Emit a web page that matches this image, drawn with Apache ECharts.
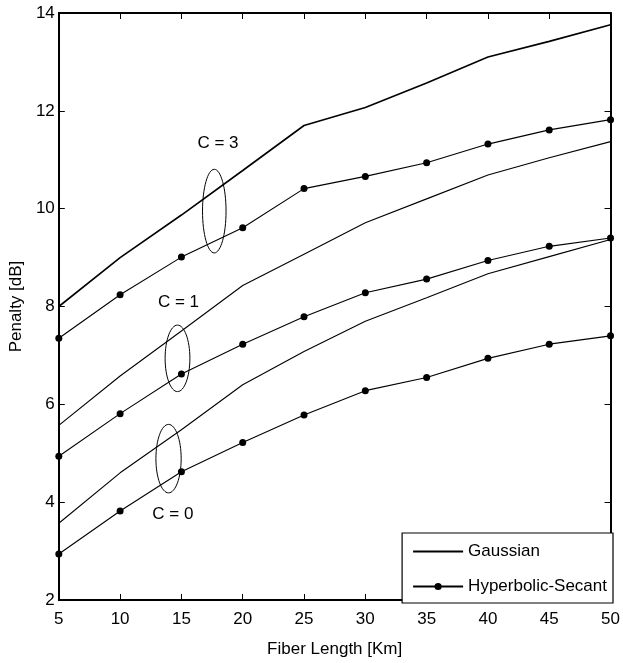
<!DOCTYPE html>
<html>
<head>
<meta charset="utf-8">
<script src="https://cdn.jsdelivr.net/npm/echarts@6/dist/echarts.min.js"></script>
<style>
html,body{margin:0;padding:0;background:#fff;}
#chart{width:623px;height:663px;}
</style>
</head>
<body>
<div id="chart"></div>
<script>
// Fiber length (km)
const fiberLength = [5, 10, 15, 20, 25, 30, 35, 40, 45, 50];
// Penalty [dB]
const gaussianC3 = [8.00, 9.00, 9.87, 10.78, 11.70, 12.07, 12.57, 13.10, 13.42, 13.76];
const hypsecC3   = [7.35, 8.24, 9.01, 9.61, 10.41, 10.66, 10.94, 11.32, 11.61, 11.82];
const gaussianC1 = [5.57, 6.58, 7.50, 8.43, 9.07, 9.71, 10.20, 10.69, 11.04, 11.37];
const hypsecC1   = [4.94, 5.81, 6.62, 7.23, 7.79, 8.28, 8.56, 8.94, 9.23, 9.40];
const gaussianC0 = [3.57, 4.60, 5.48, 6.40, 7.08, 7.70, 8.18, 8.67, 9.02, 9.37];
const hypsecC0   = [2.94, 3.82, 4.62, 5.22, 5.78, 6.28, 6.55, 6.94, 7.23, 7.40];
// Annotation ellipses: [x, y, rx, ry] in data units
const ellipseC3 = [17.68, 9.95, 0.96, 0.855];
const ellipseC1 = [14.68, 6.94, 1.01, 0.68];
const ellipseC0 = [13.95, 4.89, 1.03, 0.70];
// Annotation labels: [x, y, text]
const labelC3 = [17.98, 11.34, 'C = 3'];
const labelC1 = [14.76, 8.08, 'C = 1'];
const labelC0 = [14.30, 3.76, 'C = 0'];
const xTicks = {min: 5, max: 50, interval: 5};
const yTicks = {min: 2, max: 14, interval: 2};

const FONT = "'Liberation Sans', Arial, sans-serif";
const FS = 17;
function pair(xs, ys) { return xs.map((x, i) => [x, ys[i]]); }

const chart = echarts.init(document.getElementById('chart'), null, {renderer: 'canvas'});

function lineSeries(name, ys, withSymbol, width) {
  return {
    name: name, type: 'line', data: pair(fiberLength, ys),
    symbol: withSymbol ? 'circle' : 'none', symbolSize: 7,
    showSymbol: withSymbol,
    itemStyle: {color: '#000'},
    lineStyle: {color: '#000', width: width},
    animation: false, z: 3, clip: false
  };
}

const ellipses = [ellipseC3, ellipseC1, ellipseC0];
const labels = [labelC3, labelC1, labelC0];

const axisCommon = {
  axisLine: {show: true, onZero: false, lineStyle: {color: '#000', width: 2}},
  axisTick: {show: true, inside: true, length: 6, lineStyle: {color: '#000', width: 1}},
  splitLine: {show: false}
};

chart.setOption({
  animation: false,
  backgroundColor: '#fff',
  grid: {left: 58, top: 13, right: 10, bottom: 60, containLabel: false},
  xAxis: [
    Object.assign({
      type: 'value', position: 'bottom', min: xTicks.min, max: xTicks.max, interval: xTicks.interval,
      axisLabel: {color: '#000', fontFamily: FONT, fontSize: FS, margin: 11},
      name: 'Fiber Length [Km]', nameLocation: 'middle', nameGap: 41,
      nameTextStyle: {color: '#000', fontFamily: FONT, fontSize: FS}
    }, axisCommon),
    Object.assign({
      type: 'value', position: 'top', min: xTicks.min, max: xTicks.max, interval: xTicks.interval,
      axisLabel: {show: false}
    }, axisCommon)
  ],
  yAxis: [
    Object.assign({
      type: 'value', position: 'left', min: yTicks.min, max: yTicks.max, interval: yTicks.interval,
      axisLabel: {color: '#000', fontFamily: FONT, fontSize: FS, margin: 4},
      name: 'Penalty [dB]', nameLocation: 'middle', nameGap: 26,
      nameTextStyle: {color: '#000', fontFamily: FONT, fontSize: FS}
    }, axisCommon),
    Object.assign({
      type: 'value', position: 'right', min: yTicks.min, max: yTicks.max, interval: yTicks.interval,
      axisLabel: {show: false}
    }, axisCommon)
  ],
  legend: {
    data: [
      {name: 'Gaussian', itemStyle: {color: 'rgba(0,0,0,0)', borderColor: 'rgba(0,0,0,0)', borderWidth: 0}},
      'Hyperbolic-Secant'
    ],
    orient: 'vertical', right: 10, bottom: 60,
    backgroundColor: '#fff', borderColor: '#000', borderWidth: 1.2, borderRadius: 0,
    padding: [10, 6, 8, 10], itemGap: 18, itemWidth: 50, itemHeight: 9,
    textStyle: {color: '#000', fontFamily: FONT, fontSize: FS},
    selectedMode: false, z: 10
  },
  series: [
    lineSeries('Gaussian', gaussianC3, false, 1.6),
    lineSeries('Hyperbolic-Secant', hypsecC3, true, 1.1),
    lineSeries('Gaussian', gaussianC1, false, 1.1),
    lineSeries('Hyperbolic-Secant', hypsecC1, true, 1.1),
    lineSeries('Gaussian', gaussianC0, false, 1.1),
    lineSeries('Hyperbolic-Secant', hypsecC0, true, 1.1),
    {
      type: 'custom', name: 'ellipses', data: ellipses, z: 4, silent: true,
      renderItem: function (params, api) {
        const c = api.coord([api.value(0), api.value(1)]);
        const s = api.size([api.value(2), api.value(3)]);
        return {
          type: 'ellipse',
          shape: {cx: c[0], cy: c[1], rx: s[0], ry: s[1]},
          style: {fill: 'none', stroke: '#000', lineWidth: 1}
        };
      }
    },
    {
      type: 'custom', name: 'labels', data: labels.map(l => [l[0], l[1]]), z: 4, silent: true,
      renderItem: function (params, api) {
        const c = api.coord([api.value(0), api.value(1)]);
        return {
          type: 'text',
          style: {text: labels[params.dataIndex][2], x: c[0], y: c[1], align: 'center', verticalAlign: 'middle',
                  fill: '#000', font: FS + 'px ' + FONT}
        };
      }
    }
  ]
});
</script>
</body>
</html>
